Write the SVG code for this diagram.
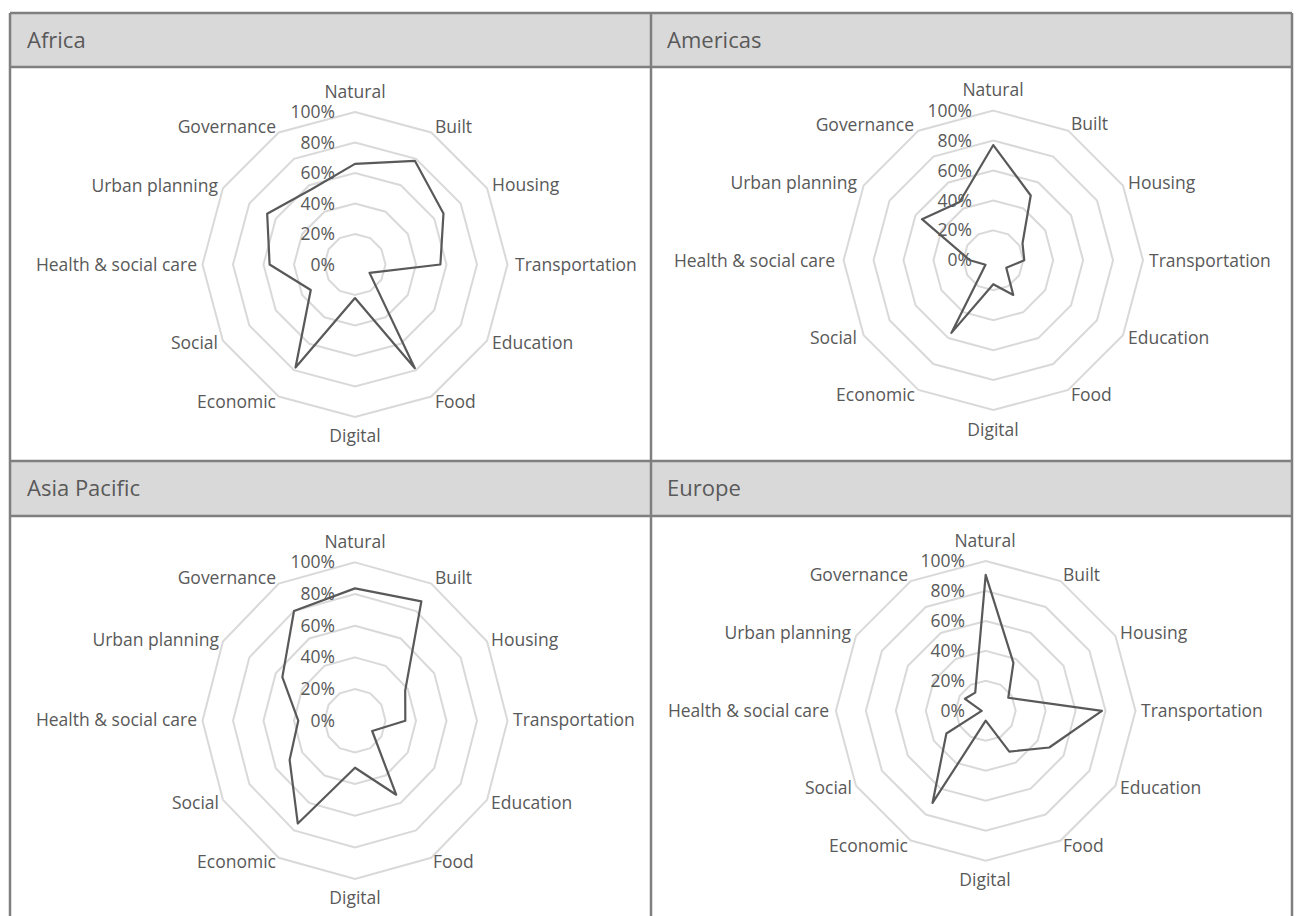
<svg xmlns="http://www.w3.org/2000/svg" xmlns:xlink="http://www.w3.org/1999/xlink" width="1300" height="916" viewBox="0 0 1300 916">
  <style>
    .hdr { fill: #d9d9d9; }
    .rule { stroke: #7f7f7f; stroke-width: 2.5; fill: none; }
    .title { font-family: "Open Sans", "Noto Sans", "DejaVu Sans", sans-serif; font-size: 22px; fill: #595959; }
    .lbl { font-family: "Open Sans", "Noto Sans", "DejaVu Sans", sans-serif; font-size: 17.5px; fill: #595959; }
    .mid { text-anchor: middle; }
    .end { text-anchor: end; }
    .ring { fill: none; stroke: #d9d9d9; stroke-width: 2; vector-effect: non-scaling-stroke; }
    .series { fill: none; stroke: #595959; stroke-width: 2.2; stroke-linejoin: round; vector-effect: non-scaling-stroke; }
  </style>
  <defs>
    <!-- unit dodecagon, first vertex straight up, clockwise -->
    <polygon id="ring" class="ring" points="0,-1 0.5,-0.866 0.866,-0.5 1,0 0.866,0.5 0.5,0.866 0,1 -0.5,0.866 -0.866,0.5 -1,0 -0.866,-0.5 -0.5,-0.866"/>
    <g id="rings">
      <use xlink:href="#ring" href="#ring" transform="scale(0.2)"/>
      <use xlink:href="#ring" href="#ring" transform="scale(0.4)"/>
      <use xlink:href="#ring" href="#ring" transform="scale(0.6)"/>
      <use xlink:href="#ring" href="#ring" transform="scale(0.8)"/>
      <use xlink:href="#ring" href="#ring"/>
    </g>
  </defs>

  <rect width="1300" height="916" fill="#ffffff"/>

  <!-- table: header bands and cell borders -->
  <g id="table">
    <rect class="hdr" x="10" y="13" width="1282" height="54"/>
    <rect class="hdr" x="10" y="461" width="1282" height="55"/>
    <path class="rule" d="M10 13H1292M10 67H1292M10 461H1292M10 516H1292M10 13V916M651 13V916M1292 13V916"/>
    <text class="title" x="27" y="48">Africa</text>
    <text class="title" x="667" y="48">Americas</text>
    <text class="title" x="27" y="496">Asia Pacific</text>
    <text class="title" x="667" y="496">Europe</text>
  </g>

  <!-- Africa -->
  <g id="chart-africa">
    <g transform="translate(355 264.5) scale(152.5)">
      <use xlink:href="#rings" href="#rings"/>
    </g>
    <g class="lbl end">
      <text x="335" y="118">100%</text>
      <text x="335" y="148.5">80%</text>
      <text x="335" y="179">60%</text>
      <text x="335" y="209.5">40%</text>
      <text x="335" y="240">20%</text>
      <text x="335" y="270.5">0%</text>
    </g>
    <g transform="translate(355 264.5) scale(152.5)">
      <polygon class="series" points="0,-0.66 0.3925,-0.6798 0.5802,-0.335 0.56,0 0.0953,0.055 0.3925,0.6798 0,0.22 -0.39,0.6755 -0.2901,0.1675 -0.56,0 -0.5759,-0.3325 -0.285,-0.4936"/>
    </g>
    <g class="lbl">
      <text class="mid" x="355" y="98">Natural</text>
      <text x="435" y="133">Built</text>
      <text x="492" y="191">Housing</text>
      <text x="515" y="271">Transportation</text>
      <text x="492" y="349">Education</text>
      <text x="435" y="408">Food</text>
      <text class="mid" x="355" y="442">Digital</text>
      <text class="end" x="276" y="408">Economic</text>
      <text class="end" x="218" y="349">Social</text>
      <text class="end" x="197" y="271">Health &amp; social care</text>
      <text class="end" x="218" y="192">Urban planning</text>
      <text class="end" x="276" y="133">Governance</text>
    </g>
  </g>

  <!-- Americas -->
  <g id="chart-americas">
    <g transform="translate(993.3 260.3) scale(149.7)">
      <use xlink:href="#rings" href="#rings"/>
    </g>
    <g class="lbl end">
      <text x="972" y="116.7">100%</text>
      <text x="972" y="146.6">80%</text>
      <text x="972" y="176.5">60%</text>
      <text x="972" y="206.5">40%</text>
      <text x="972" y="236.4">20%</text>
      <text x="972" y="266.3">0%</text>
    </g>
    <g transform="translate(993.3 260.3) scale(149.7)">
      <polygon class="series" points="0,-0.77 0.25,-0.433 0.1949,-0.1125 0.207,0 0.0866,0.05 0.1335,0.2312 0,0.16 -0.28,0.485 -0.052,0.03 -0.156,0 -0.4763,-0.275 -0.225,-0.3897"/>
    </g>
    <g class="lbl">
      <text class="mid" x="993" y="96">Natural</text>
      <text x="1071" y="130">Built</text>
      <text x="1128" y="189">Housing</text>
      <text x="1149" y="267">Transportation</text>
      <text x="1128" y="344">Education</text>
      <text x="1071" y="401">Food</text>
      <text class="mid" x="993" y="436">Digital</text>
      <text class="end" x="915" y="401">Economic</text>
      <text class="end" x="857" y="344">Social</text>
      <text class="end" x="835" y="267">Health &amp; social care</text>
      <text class="end" x="857" y="189">Urban planning</text>
      <text class="end" x="914" y="131">Governance</text>
    </g>
  </g>

  <!-- Asia Pacific -->
  <g id="chart-asia-pacific">
    <g transform="translate(355 720.7) scale(152.5 158.3)">
      <use xlink:href="#rings" href="#rings"/>
    </g>
    <g class="lbl end">
      <text x="335" y="568.3">100%</text>
      <text x="335" y="600">80%</text>
      <text x="335" y="631.6">60%</text>
      <text x="335" y="663.3">40%</text>
      <text x="335" y="695">20%</text>
      <text x="335" y="726.7">0%</text>
    </g>
    <g transform="translate(355 720.7) scale(152.5 158.3)">
      <polygon class="series" points="0,-0.836 0.435,-0.7534 0.3291,-0.19 0.33,0 0.1126,0.065 0.27,0.4676 0,0.297 -0.375,0.6495 -0.4287,0.2475 -0.372,0 -0.4763,-0.275 -0.4,-0.6928"/>
    </g>
    <g class="lbl">
      <text class="mid" x="355" y="548">Natural</text>
      <text x="435" y="584">Built</text>
      <text x="491" y="646">Housing</text>
      <text x="513" y="726">Transportation</text>
      <text x="491" y="809">Education</text>
      <text x="433" y="868">Food</text>
      <text class="mid" x="355" y="904">Digital</text>
      <text class="end" x="276" y="868">Economic</text>
      <text class="end" x="219" y="809">Social</text>
      <text class="end" x="197" y="726">Health &amp; social care</text>
      <text class="end" x="219" y="646">Urban planning</text>
      <text class="end" x="276" y="584">Governance</text>
    </g>
  </g>

  <!-- Europe -->
  <g id="chart-europe">
    <g transform="translate(985.7 710.8) scale(149.8)">
      <use xlink:href="#rings" href="#rings"/>
    </g>
    <g class="lbl end">
      <text x="965" y="567">100%</text>
      <text x="965" y="597">80%</text>
      <text x="965" y="626.9">60%</text>
      <text x="965" y="656.9">40%</text>
      <text x="965" y="686.9">20%</text>
      <text x="965" y="716.8">0%</text>
    </g>
    <g transform="translate(985.7 710.8) scale(149.8)">
      <polygon class="series" points="0,-0.907 0.185,-0.3204 0.1507,-0.087 0.776,0 0.4243,0.245 0.1575,0.2728 0,0.066 -0.355,0.6149 -0.2624,0.1515 -0.027,0 -0.1386,-0.08 -0.07,-0.1212"/>
    </g>
    <g class="lbl">
      <text class="mid" x="985" y="547">Natural</text>
      <text x="1063" y="581">Built</text>
      <text x="1120" y="639">Housing</text>
      <text x="1141" y="717">Transportation</text>
      <text x="1120" y="794">Education</text>
      <text x="1063" y="852">Food</text>
      <text class="mid" x="985" y="886">Digital</text>
      <text class="end" x="908" y="852">Economic</text>
      <text class="end" x="852" y="794">Social</text>
      <text class="end" x="829" y="717">Health &amp; social care</text>
      <text class="end" x="851" y="639">Urban planning</text>
      <text class="end" x="908" y="581">Governance</text>
    </g>
  </g>
</svg>
